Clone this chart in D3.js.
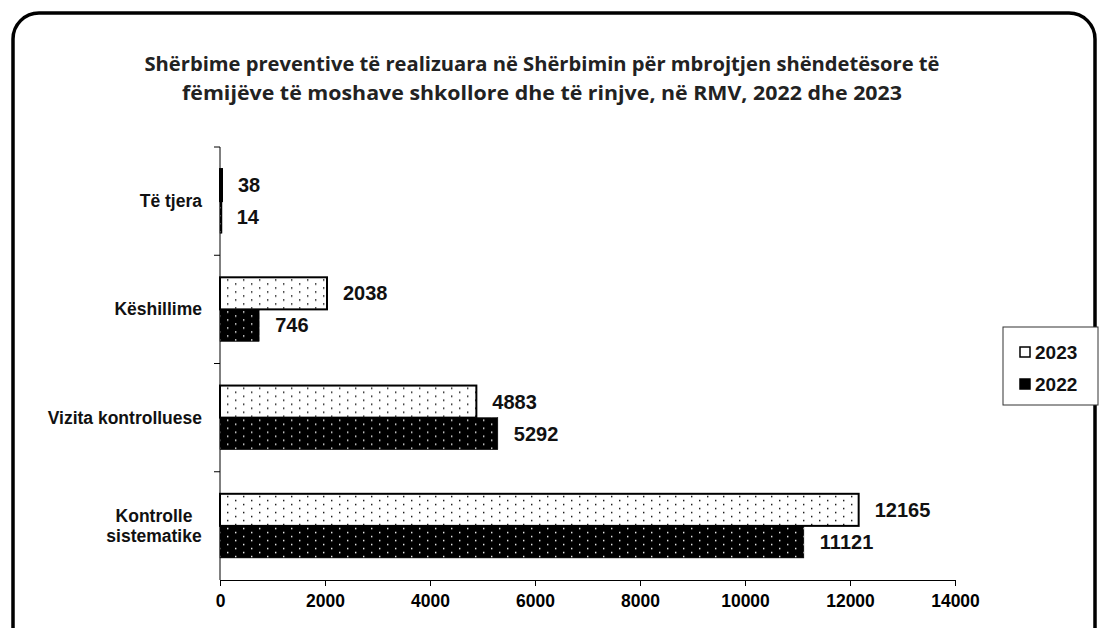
<!DOCTYPE html>
<html>
<head>
<meta charset="utf-8">
<script src="https://cdn.jsdelivr.net/npm/d3@7"></script>
<style>
  body { margin: 0; background: #fff; }
  svg { display: block; }
</style>
</head>
<body>
<svg id="chart" width="1108" height="628"></svg>
<script>
// Chart data
const categories = ["Të tjera", "Këshillime", "Vizita kontrolluese", "Kontrolle sistematike"];
const categoryLines = [["Të tjera"], ["Këshillime"], ["Vizita kontrolluese"], ["Kontrolle", "sistematike"]];
const series = ["2023", "2022"];
const values2023 = [38, 2038, 4883, 12165];
const values2022 = [14, 746, 5292, 11121];
const xTicks = [0, 2000, 4000, 6000, 8000, 10000, 12000, 14000];
const titleLines = [
  "Shërbime preventive të realizuara  në Shërbimin për mbrojtjen shëndetësore të",
  "fëmijëve të moshave shkollore dhe të rinjve, në RMV, 2022 dhe 2023"
];
const titleWidths = [795, 720];

const svg = d3.select("#chart");
const margin = {left: 220, top: 147, bottom: 580};
const labelFont = "Arial, 'Liberation Sans', sans-serif";

// Outer rounded frame
svg.append("rect")
  .attr("x", 13).attr("y", 13)
  .attr("width", 1082).attr("height", 660)
  .attr("rx", 26).attr("ry", 26)
  .attr("fill", "#fff")
  .attr("stroke", "#000")
  .attr("stroke-width", 3.5);

// Dot patterns
const defs = svg.append("defs");
function dotPattern(id, bg, fg) {
  let p = defs.append("pattern")
    .attr("id", id)
    .attr("patternUnits", "userSpaceOnUse")
    .attr("width", 16).attr("height", 8);
  p.append("rect").attr("width", 16).attr("height", 8).attr("fill", bg);
  [[3, 2], [11, 6]].forEach(([x, y]) => {
    p.append("rect").attr("x", x).attr("y", y)
      .attr("width", 1.4).attr("height", 1.4).attr("fill", fg);
  });
}
dotPattern("p2023", "#fff", "#000");
dotPattern("p2022", "#000", "#fff");

// Title
svg.append("g").selectAll("text")
  .data(titleLines)
  .join("text")
  .attr("x", 542)
  .attr("y", (d, i) => 71 + i * 29)
  .attr("text-anchor", "middle")
  .attr("font-family", "'Open Sans', sans-serif")
  .attr("font-weight", "bold")
  .attr("font-size", "19px")
  .attr("textLength", (d, i) => titleWidths[i])
  .attr("lengthAdjust", "spacingAndGlyphs")
  .attr("fill", "#222")
  .text(d => d);

// Scales
const x = d3.scaleLinear()
  .domain([0, 14000])
  .range([margin.left, 955]);
const y = d3.scaleBand()
  .domain(categories)
  .range([margin.top, margin.bottom])
  .paddingInner(44 / 108)
  .paddingOuter(22 / 108);
const yInner = d3.scaleBand()
  .domain(series)
  .range([0, y.bandwidth()]);

// X axis
const xAxis = svg.append("g")
  .attr("transform", `translate(0,${margin.bottom})`)
  .call(d3.axisBottom(x).tickValues(xTicks).tickSize(6).tickFormat(d3.format("d")));
xAxis.selectAll("text")
  .attr("font-family", labelFont)
  .attr("font-weight", "bold")
  .attr("font-size", "17.5px")
  .attr("fill", "#000")
  .attr("dy", "1.05em");

// Y axis line and band-boundary ticks
const yAxisG = svg.append("g");
yAxisG.append("line")
  .attr("x1", margin.left).attr("x2", margin.left)
  .attr("y1", margin.top).attr("y2", margin.bottom)
  .attr("stroke", "#000");
const step = (margin.bottom - margin.top) / categories.length;
yAxisG.selectAll("line.tk")
  .data(d3.range(categories.length).map(i => margin.top + i * step))
  .join("line")
  .attr("class", "tk")
  .attr("x1", margin.left - 6).attr("x2", margin.left)
  .attr("y1", d => d).attr("y2", d => d)
  .attr("stroke", "#000");

// Category labels
const catLabels = svg.append("g").selectAll("text")
  .data(categories)
  .join("text")
  .attr("font-family", labelFont)
  .attr("font-weight", "bold")
  .attr("font-size", "17.5px")
  .attr("fill", "#111");
catLabels.each(function(d, i) {
  const lines = categoryLines[i];
  const cy = y(d) + y.bandwidth() / 2;
  d3.select(this).selectAll("tspan")
    .data(lines)
    .join("tspan")
    .attr("x", lines.length > 1 ? 154 : 202)
    .attr("text-anchor", lines.length > 1 ? "middle" : "end")
    .attr("y", (l, j) => cy + 6 + (j - (lines.length - 1) / 2) * 20)
    .text(l => l);
});

// Bars
const rows = categories.map((c, i) => ({cat: c, "2023": values2023[i], "2022": values2022[i]}));
const groups = svg.append("g").selectAll("g")
  .data(rows)
  .join("g")
  .attr("transform", d => `translate(0,${y(d.cat)})`);
groups.selectAll("rect")
  .data(d => series.map(s => ({s, v: d[s]})))
  .join("rect")
  .attr("x", x(0))
  .attr("y", d => yInner(d.s))
  .attr("width", d => Math.max(x(d.v) - x(0), 2))
  .attr("height", yInner.bandwidth())
  .attr("fill", d => `url(#p${d.s})`)
  .attr("stroke", "#000")
  .attr("stroke-width", d => d.s === "2023" ? 2 : 0.5);
groups.selectAll("text")
  .data(d => series.map(s => ({s, v: d[s]})))
  .join("text")
  .attr("x", d => x(d.v) + 16)
  .attr("y", d => yInner(d.s) + yInner.bandwidth() / 2 + 7)
  .attr("font-family", labelFont)
  .attr("font-weight", "bold")
  .attr("font-size", "20px")
  .attr("fill", "#111")
  .text(d => d.v);

// Legend
const legend = svg.append("g");
legend.append("rect")
  .attr("x", 1003).attr("y", 327)
  .attr("width", 95).attr("height", 78)
  .attr("fill", "#fff")
  .attr("stroke", "#333")
  .attr("stroke-width", 1);
const li = legend.selectAll("g")
  .data(series)
  .join("g")
  .attr("transform", (d, i) => `translate(1020,${347 + i * 32})`);
li.append("rect")
  .attr("width", 10).attr("height", 10)
  .attr("fill", d => d === "2023" ? "#fff" : "#000")
  .attr("stroke", "#000")
  .attr("stroke-width", 1.5);
li.append("text")
  .attr("x", 15).attr("y", 12)
  .attr("font-family", labelFont)
  .attr("font-weight", "bold")
  .attr("font-size", "19px")
  .attr("fill", "#111")
  .text(d => d);
</script>
</body>
</html>
